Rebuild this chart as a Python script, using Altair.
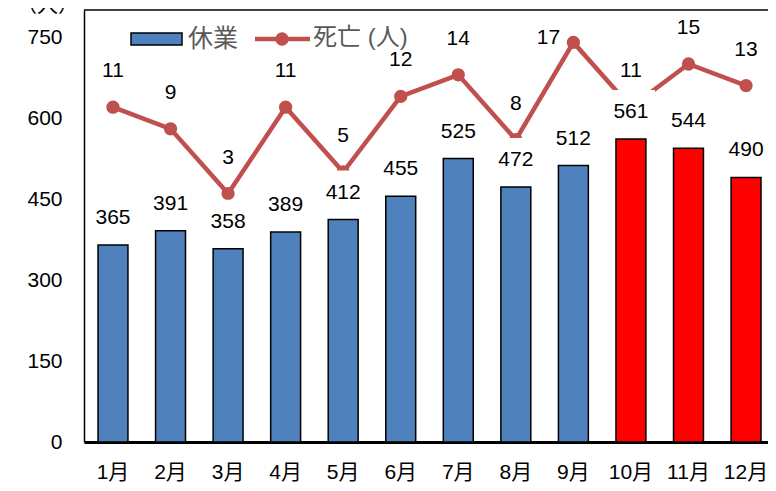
import altair as alt
import pandas as pd

months = ["1月", "2月", "3月", "4月", "5月", "6月", "7月", "8月", "9月", "10月", "11月", "12月"]
kyugyo = [365, 391, 358, 389, 412, 455, 525, 472, 512, 561, 544, 490]
shibo = [11, 9, 3, 11, 5, 12, 14, 8, 17, 11, 15, 13]
highlight = ["10月", "11月", "12月"]
y_ticks = [0, 150, 300, 450, 600, 750]

BLUE = "#4F81BD"
RED_BAR = "#FF0000"
LINE = "#C0504D"
GRAY = "#595959"
FONT = "Liberation Sans, Noto Sans CJK JP"

df = pd.DataFrame({"month": months, "kyugyo": kyugyo, "shibo": shibo})
df["color"] = [RED_BAR if m in highlight else BLUE for m in months]

x = alt.X(
    "month:N", sort=months,
    scale=alt.Scale(paddingInner=0.48, paddingOuter=0.1826, align=0.667),
    axis=alt.Axis(title=None, labelAngle=0, ticks=False, grid=False,
                  domainColor="black", domainWidth=3,
                  labelFont=FONT, labelFontSize=21, labelColor="black",
                  labelPadding=19),
)
y_bar = alt.Y(
    "kyugyo:Q", scale=alt.Scale(domain=[0, 800], nice=False),
    axis=alt.Axis(title="（人）", titleAngle=0, titleX=-37, titleY=1,
                  titleAlign="center", titleBaseline="alphabetic",
                  titleFont=FONT, titleFontSize=21, titleFontWeight="normal",
                  titleColor="black",
                  values=y_ticks, ticks=False, grid=False,
                  domainColor="black", domainWidth=1.5,
                  labelFont=FONT, labelFontSize=21, labelColor="black",
                  labelPadding=22),
)
y_bar_noaxis = alt.Y("kyugyo:Q", scale=alt.Scale(domain=[0, 800], nice=False), axis=None)
y_line = alt.Y("shibo:Q", scale=alt.Scale(domain=[-20, 20], nice=False), axis=None)

base = alt.Chart(df)

bars = base.mark_bar(stroke="black", strokeWidth=1.5).encode(
    x=x, y=y_bar, color=alt.Color("color:N", scale=None)
)
line = base.mark_line(color=LINE, strokeWidth=4.5).encode(x=x, y=y_line)
points = base.mark_point(filled=True, color=LINE, size=177, opacity=1).encode(x=x, y=y_line)

RECT_PATH = "M-1,-0.917L1,-0.917L1,0.917L-1,0.917Z"
boxes = base.mark_point(shape=RECT_PATH, size=2304, filled=True, fill="white",
                        strokeWidth=0, opacity=1, yOffset=-27).encode(x=x, y=y_bar_noaxis)
bar_text = base.mark_text(dy=-27, font=FONT, fontSize=21, color="black",
                          align="center", baseline="middle").encode(
    x=x, y=y_bar_noaxis, text="kyugyo:Q")
# labels that fit above their point
line_text = base.transform_filter("datum.shibo <= 16").mark_text(
    dy=-36, font=FONT, fontSize=21, color="black",
    align="center", baseline="middle").encode(x=x, y=y_line, text="shibo:Q")
# labels that would leave the plot at the top go to the left of their point
line_text_left = base.transform_filter("datum.shibo > 16").mark_text(
    dx=-25, dy=-4, font=FONT, fontSize=21, color="black",
    align="center", baseline="middle").encode(x=x, y=y_line, text="shibo:Q")

one = alt.Chart(pd.DataFrame({"a": [0]}))
top_rule = one.mark_rule(color="black", strokeWidth=1.5).encode(
    x=alt.value(0), x2=alt.value(700), y=alt.value(0))

leg_rect = one.mark_rect(fill=BLUE, stroke="black", strokeWidth=1.5).encode(
    x=alt.value(47), x2=alt.value(98), y=alt.value(23), y2=alt.value(35))
leg_text1 = one.mark_text(text="休業", font=FONT, fontSize=25, color=GRAY,
                          align="left", baseline="middle").encode(
    x=alt.value(104), y=alt.value(29))
leg_line = one.mark_rule(color=LINE, strokeWidth=4.5).encode(
    x=alt.value(171), x2=alt.value(226), y=alt.value(29))
leg_pt = one.mark_point(filled=True, color=LINE, size=177, opacity=1).encode(
    x=alt.value(198), y=alt.value(29))
leg_text2 = one.mark_text(text="死亡 (人)", font=FONT, fontSize=24, color=GRAY,
                          align="left", baseline="middle").encode(
    x=alt.value(229), y=alt.value(28))

chart = alt.layer(
    bars, line, points, boxes, bar_text, line_text, line_text_left, top_rule,
    leg_rect, leg_text1, leg_line, leg_pt, leg_text2,
).resolve_scale(y="independent").properties(
    width=684, height=432,
    autosize=alt.AutoSizeParams(type="none"),
    padding={"left": 76, "top": 2, "right": 0, "bottom": 41},
    background="white",
).configure_view(stroke=None)

chart.save("out.html", embed_options={"renderer": "svg", "actions": False})
